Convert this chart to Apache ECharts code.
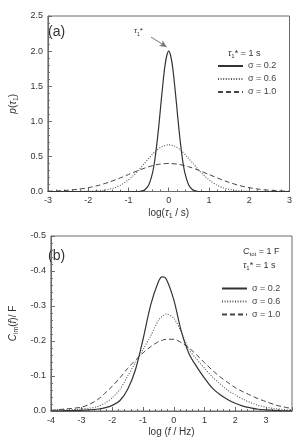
<!DOCTYPE html>
<html>
<head>
<meta charset="utf-8">
<script src="https://cdn.jsdelivr.net/npm/echarts@6/dist/echarts.min.js"></script>
<style>
  html, body { margin: 0; padding: 0; background: #fff; }
  #main { width: 295px; height: 440px; }
</style>
</head>
<body>
<div id="main"></div>
<script>
// (a) distribution of relaxation times p(tau1)
const logTau02 = [-3, -0.8, -0.7, -0.6, -0.5, -0.4, -0.35, -0.3, -0.25, -0.2, -0.15, -0.1, -0.05, 0,
  0.05, 0.1, 0.15, 0.2, 0.25, 0.3, 0.35, 0.4, 0.5, 0.6, 0.7, 0.8, 3];
const p02 = [0, 0, 0.004, 0.022, 0.088, 0.27, 0.43, 0.65, 0.91, 1.21, 1.5, 1.76, 1.93, 2.0,
  1.93, 1.76, 1.5, 1.21, 0.91, 0.65, 0.43, 0.27, 0.088, 0.022, 0.004, 0, 0];

const logTau06 = [-3, -2.4, -2.1, -1.8, -1.65, -1.5, -1.35, -1.2, -1.05, -0.9, -0.75, -0.6, -0.45, -0.3, -0.15, 0,
  0.15, 0.3, 0.45, 0.6, 0.75, 0.9, 1.05, 1.2, 1.35, 1.5, 1.65, 1.8, 2.1, 2.4, 3];
const p06 = [0, 0, 0.002, 0.007, 0.015, 0.03, 0.053, 0.09, 0.145, 0.216, 0.303, 0.403, 0.5, 0.587, 0.645, 0.665,
  0.645, 0.587, 0.5, 0.403, 0.303, 0.216, 0.145, 0.09, 0.053, 0.03, 0.015, 0.007, 0.002, 0, 0];

const logTau10 = [-3, -2.75, -2.5, -2.25, -2, -1.75, -1.5, -1.25, -1, -0.75, -0.5, -0.25, 0,
  0.25, 0.5, 0.75, 1, 1.25, 1.5, 1.75, 2, 2.25, 2.5, 2.75, 3];
const p10 = [0.004, 0.009, 0.018, 0.032, 0.054, 0.086, 0.13, 0.183, 0.242, 0.301, 0.352, 0.387, 0.399,
  0.387, 0.352, 0.301, 0.242, 0.183, 0.13, 0.086, 0.054, 0.032, 0.018, 0.009, 0.004];

// (b) imaginary capacitance vs log f
const logF = [-4, -3.75, -3.5, -3.25, -3, -2.75, -2.5, -2.25, -2, -1.75, -1.5, -1.25, -1, -0.75, -0.5, -0.375,
  -0.25, 0, 0.25, 0.5, 0.75, 1, 1.25, 1.5, 1.75, 2, 2.25, 2.5, 2.75, 3, 3.25, 3.5, 3.85];
const cIm02 = [0, 0, -0.001, -0.001, -0.002, -0.003, -0.005, -0.009, -0.016, -0.03, -0.062, -0.117, -0.205, -0.303, -0.369, -0.383,
  -0.378, -0.318, -0.226, -0.163, -0.126, -0.094, -0.066, -0.047, -0.033, -0.022, -0.014, -0.009, -0.005, -0.003, -0.002, -0.001, 0];
const cIm06 = [-0.001, -0.002, -0.003, -0.004, -0.006, -0.008, -0.012, -0.022, -0.038, -0.062, -0.1, -0.138, -0.176, -0.215, -0.259, -0.27,
  -0.277, -0.265, -0.225, -0.175, -0.148, -0.122, -0.098, -0.078, -0.06, -0.046, -0.034, -0.024, -0.016, -0.011, -0.007, -0.005, -0.002];
const cIm10 = [-0.002, -0.004, -0.006, -0.008, -0.011, -0.019, -0.031, -0.05, -0.071, -0.095, -0.122, -0.145, -0.166, -0.184, -0.198, -0.202,
  -0.205, -0.205, -0.195, -0.18, -0.16, -0.138, -0.117, -0.098, -0.082, -0.067, -0.055, -0.045, -0.035, -0.027, -0.019, -0.013, -0.007];

const sigmaNames = ["σ = 0.2", "σ = 0.6", "σ = 1.0"];

const FONT = "Liberation Sans";
const frame = "#6a6a6a";
const txt = "#333";
const rich = {
  i: { fontStyle: "italic", fontFamily: FONT, fontSize: 10, color: txt, lineHeight: 13 },
  s: { fontFamily: FONT, fontSize: 7, color: txt, verticalAlign: "bottom", lineHeight: 13 }
};
const lineStyles = [
  { color: "#333", width: 1.2, type: "solid" },
  { color: "#555", width: 1.1, type: [1, 1.6] },
  { color: "#444", width: 1, type: [5, 3] }
];

function pairs(xs, ys) {
  return xs.map((x, i) => [x, ys[i]]);
}

function xAx(idx, min, max, name) {
  return {
    type: "value", gridIndex: idx, min: min, max: max, interval: 1,
    axisLine: { show: true, onZero: false, lineStyle: { color: frame, width: 1 } },
    axisTick: { show: true, inside: true, length: 4, lineStyle: { color: frame } },
    minorTick: { show: true, splitNumber: 5, length: 2, lineStyle: { color: frame } },
    splitLine: { show: false },
    axisLabel: { fontFamily: FONT, fontSize: 9, color: txt, margin: 5, showMaxLabel: max === 3 },
    name: name, nameLocation: "middle", nameGap: 15,
    nameTextStyle: { fontFamily: FONT, fontSize: 10, color: txt, rich: rich }
  };
}

function yAx(idx, min, max, interval, inverse, name) {
  return {
    type: "value", gridIndex: idx, min: min, max: max, interval: interval, inverse: inverse,
    axisLine: { show: true, onZero: false, lineStyle: { color: frame, width: 1 } },
    axisTick: { show: true, inside: true, length: 4, lineStyle: { color: frame } },
    minorTick: { show: true, splitNumber: 5, length: 2, lineStyle: { color: frame } },
    splitLine: { show: false },
    axisLabel: { fontFamily: FONT, fontSize: 9, color: txt, margin: 5,
      formatter: v => (Math.abs(v) < 1e-9 ? "0.0" : v.toFixed(1)) },
    name: name, nameLocation: "middle", nameGap: 26, nameRotate: 90,
    nameTextStyle: { fontFamily: FONT, fontSize: 10, color: txt, rich: rich }
  };
}

const seriesA = [[logTau02, p02], [logTau06, p06], [logTau10, p10]].map((d, k) => ({
  name: sigmaNames[k], type: "line", xAxisIndex: 0, yAxisIndex: 0,
  symbol: "none", smooth: 0.3, data: pairs(d[0], d[1]),
  lineStyle: lineStyles[k], itemStyle: { color: lineStyles[k].color }, z: 3 - k
}));
// arrow pointing at tau1*
seriesA[0].markLine = {
  silent: true, symbol: ["none", "arrow"], symbolSize: [5, 7],
  label: { show: false },
  lineStyle: { color: "#777", width: 1, type: "solid" },
  data: [[{ coord: [-0.44, 2.2] }, { coord: [-0.05, 2.06] }]]
};

const seriesB = [cIm02, cIm06, cIm10].map((vals, k) => ({
  name: sigmaNames[k], type: "line", xAxisIndex: 1, yAxisIndex: 1,
  symbol: "none", smooth: 0.3, data: pairs(logF, vals),
  lineStyle: lineStyles[k], itemStyle: { color: lineStyles[k].color }, z: 3 - k
}));

const legendBase = {
  orient: "vertical", itemWidth: 25, itemHeight: 8, itemGap: 4, padding: 0,
  data: sigmaNames, selectedMode: false,
  itemStyle: { opacity: 0 },
  textStyle: { fontFamily: FONT, fontSize: 9, color: "#444", padding: [0, 0, 0, 0] }
};

function label(left, top, text, size) {
  return {
    type: "text", left: left, top: top,
    style: { text: text, fontFamily: FONT, fontSize: size, fill: txt, rich: {
      i: { fontStyle: "italic", fontFamily: FONT, fontSize: size, fill: txt, lineHeight: 12 },
      s: { fontFamily: FONT, fontSize: size - 3, fill: txt, verticalAlign: "bottom", lineHeight: 12 },
      n: { fontFamily: FONT, fontSize: size, fill: txt, lineHeight: 12 }
    } }
  };
}

const chart = echarts.init(document.getElementById("main"));
chart.setOption({
  animation: false,
  grid: [
    { left: 40, right: 5, top: 16, height: 175.5, show: true, borderColor: frame, borderWidth: 1 },
    { left: 42, right: 3, top: 236, height: 175, show: true, borderColor: frame, borderWidth: 1 }
  ],
  xAxis: [
    xAx(0, -3, 3, "log({i|τ}{s|1} / s)"),
    xAx(1, -4, 3.85, "log ({i|f} / Hz)")
  ],
  yAxis: [
    yAx(0, 0, 2.5, 0.5, false, "{i|p}({i|τ}{s|1})"),
    yAx(1, -0.5, 0, 0.1, true, "{i|C}{s|im}({i|f})/ F")
  ],
  legend: [
    Object.assign({}, legendBase, { left: 217, top: 61.5 }),
    Object.assign({}, legendBase, { left: 221, top: 284 })
  ],
  graphic: [
    { type: "text", left: 48, top: 25, style: { text: "(a)", fontFamily: FONT, fontSize: 14, fill: txt } },
    { type: "text", left: 48, top: 249, style: { text: "(b)", fontFamily: FONT, fontSize: 14, fill: txt } },
    label(134, 27, "{i|τ}{s|1}{n|*}", 8),
    label(228, 49, "{i|τ}{s|1}{n|* = 1 s}", 9),
    label(243, 247, "{i|C}{s|tot}{n| = 1 F}", 9),
    label(243, 261, "{i|τ}{s|1}{n|* = 1 s}", 9)
  ],
  series: seriesA.concat(seriesB)
});
</script>
</body>
</html>
